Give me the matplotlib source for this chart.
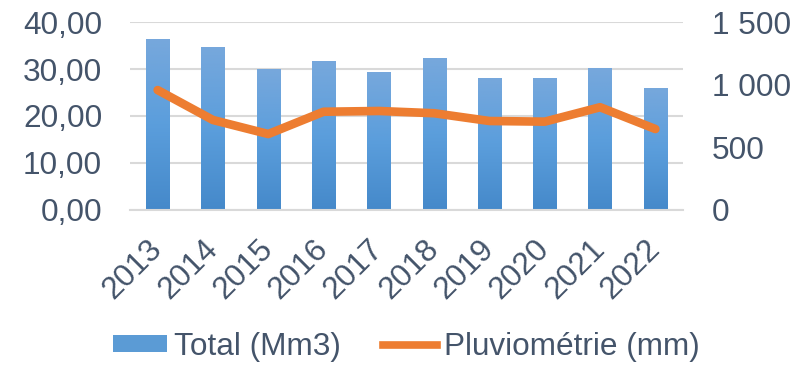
import numpy as np
import matplotlib.pyplot as plt
from matplotlib.colors import LinearSegmentedColormap
from matplotlib.patches import Patch
from matplotlib.lines import Line2D
from matplotlib.ticker import FuncFormatter

plt.rcParams['font.family'] = ['Liberation Sans', 'DejaVu Sans']

years = ['2013', '2014', '2015', '2016', '2017', '2018', '2019', '2020', '2021', '2022']
total_mm3 = [36.4, 34.7, 30.0, 31.7, 29.4, 32.3, 28.1, 28.1, 30.2, 26.0]
pluvio_mm = [957, 718, 606, 784, 790, 772, 710, 705, 820, 646]

TXT = '#44546A'
GRID = '#D9D9D9'
ORANGE = '#ED7D31'
FS = 22.7
grad = LinearSegmentedColormap.from_list('bar', ['#4589CA', '#5B9EDC', '#77A8DC'])

fig = plt.figure(figsize=(8.05, 3.65), dpi=100)
ax = fig.add_axes([0.1615, 0.4247, 0.687, 0.515])
ax2 = ax.twinx()

x = np.arange(len(years))
bars = ax.bar(x, total_mm3, width=0.42, color='none', zorder=2)

# vertical gradient fill, clipped to each bar
g = np.linspace(0, 1, 256).reshape(-1, 1)
for b in bars:
    x0, w, h = b.get_x(), b.get_width(), b.get_height()
    im = ax.imshow(g, cmap=grad, origin='lower', aspect='auto',
                   extent=[x0, x0 + w, 0, h], zorder=2)
    im.set_clip_path(b)

ax.set_xlim(-0.5, len(years) - 0.5)
ax.set_ylim(0, 40)
ax.set_yticks([0, 10, 20, 30, 40])
ax.yaxis.set_major_formatter(FuncFormatter(lambda v, p: f'{v:.2f}'.replace('.', ',')))
ax.grid(axis='y', color=GRID, lw=1.5, zorder=0)
ax.set_axisbelow(True)

ax2.plot(x, pluvio_mm, color=ORANGE, lw=6.2, solid_capstyle='round',
         solid_joinstyle='round', zorder=3)
ax2.set_ylim(0, 1500)
ax2.set_yticks([0, 500, 1000, 1500])
ax2.yaxis.set_major_formatter(FuncFormatter(lambda v, p: f'{int(v):,}'.replace(',', ' ')))

for a in (ax, ax2):
    for s in a.spines.values():
        s.set_visible(False)
    a.tick_params(length=0, labelsize=FS, labelcolor=TXT)
ax.spines['bottom'].set_visible(True)
ax.spines['bottom'].set_color(GRID)
ax.spines['bottom'].set_linewidth(1.5)
ax.tick_params(axis='y', pad=20)
ax2.tick_params(axis='y', pad=21)

ax.set_xticks(x)
ax.set_xticklabels(years, rotation=45, ha='right', va='center',
                   rotation_mode='anchor')
ax.tick_params(axis='x', pad=25)

handles = [Patch(facecolor='#5B9BD5', edgecolor='none'),
           Line2D([0], [0], color=ORANGE, lw=5.5)]
fig.legend(handles, ['Total (Mm3)', 'Pluviométrie (mm)'], loc='center',
           bbox_to_anchor=(0.505, 0.05), ncol=2, frameon=False, fontsize=FS,
           labelcolor=TXT, handlelength=1.7, handletextpad=0.22,
           columnspacing=1.35, handleheight=0.41)

fig.savefig('out.png', dpi=100)
